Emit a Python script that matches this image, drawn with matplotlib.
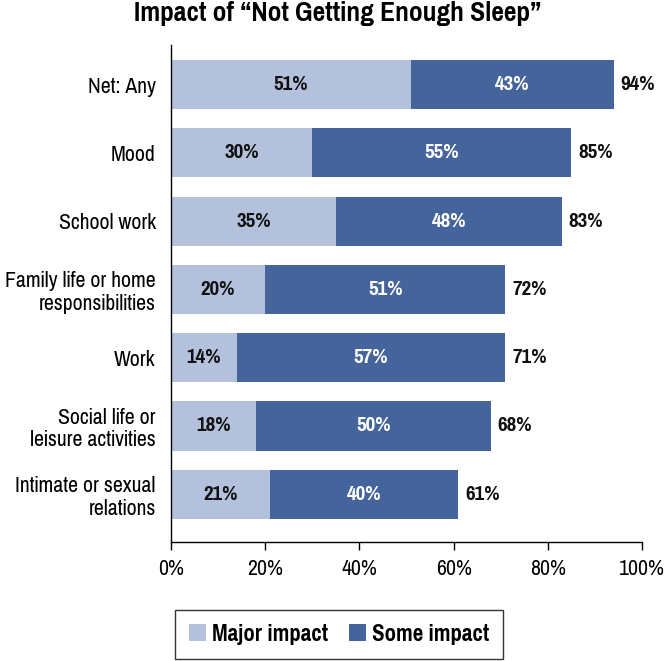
import matplotlib.pyplot as plt
import numpy as np

# data
categories = ["Net: Any", "Mood", "School work",
              "Family life or home\nresponsibilities", "Work",
              "Social life or\nleisure activities", "Intimate or sexual\nrelations"]
major = [51, 30, 35, 20, 14, 18, 21]
some = [43, 55, 48, 51, 57, 50, 40]
totals = [94, 85, 83, 72, 71, 68, 61]
xticks = [0, 20, 40, 60, 80, 100]

light = "#B3C1DC"
dark = "#46649C"
fam = ["Pragati Narrow", "Roboto Condensed", "Liberation Sans", "DejaVu Sans"]
plt.rcParams["font.family"] = fam

fig = plt.figure(figsize=(6.64, 6.61), dpi=100)
ax = fig.add_axes([171 / 664, 1 - 542 / 661, 471 / 664, 497 / 661])

y = np.arange(len(categories))
ax.barh(y, major, height=0.72, color=light, label="Major impact")
ax.barh(y, some, left=major, height=0.72, color=dark, label="Some impact")

for i in range(len(categories)):
    ax.text(major[i] / 2, y[i], f"{major[i]}%", ha="center", va="center",
            fontsize=16.5, fontweight="bold", color="#111111")
    ax.text(major[i] + some[i] / 2, y[i], f"{some[i]}%", ha="center", va="center",
            fontsize=16.5, fontweight="bold", color="white")
    ax.text(major[i] + some[i] + 1.4, y[i], f"{totals[i]}%", ha="left", va="center",
            fontsize=16.5, fontweight="bold", color="#111111")

ax.set_xlim(0, 100)
ax.set_ylim(6.70, -0.58)
ax.set_yticks(y)
ax.set_yticklabels(categories, fontsize=17, linespacing=1.15, ha="right")
ax.set_xticks(xticks)
ax.set_xticklabels([f"{t}%" for t in xticks], fontsize=17)
ax.tick_params(axis="y", length=0, pad=11)
ax.tick_params(axis="x", length=6, direction="out", pad=6, width=1)
for s in ["top", "right"]:
    ax.spines[s].set_visible(False)
ax.spines["left"].set_linewidth(1)
ax.spines["bottom"].set_linewidth(1)

fig.suptitle("Impact of \u201cNot Getting Enough Sleep\u201d", x=0.508, y=0.998,
             fontsize=21.5, fontweight="bold", va="top")

leg = fig.legend(loc="lower left", bbox_to_anchor=(175 / 664, 1 - 659 / 661),
                 ncol=2, frameon=True, fancybox=False, edgecolor="black",
                 prop={"weight": "bold", "size": 18, "family": fam},
                 handlelength=0.7, handleheight=0.7, handletextpad=0.25,
                 columnspacing=0.8, borderpad=0.55, borderaxespad=0)
leg.get_frame().set_linewidth(1)

fig.savefig("out.png", dpi=100)
